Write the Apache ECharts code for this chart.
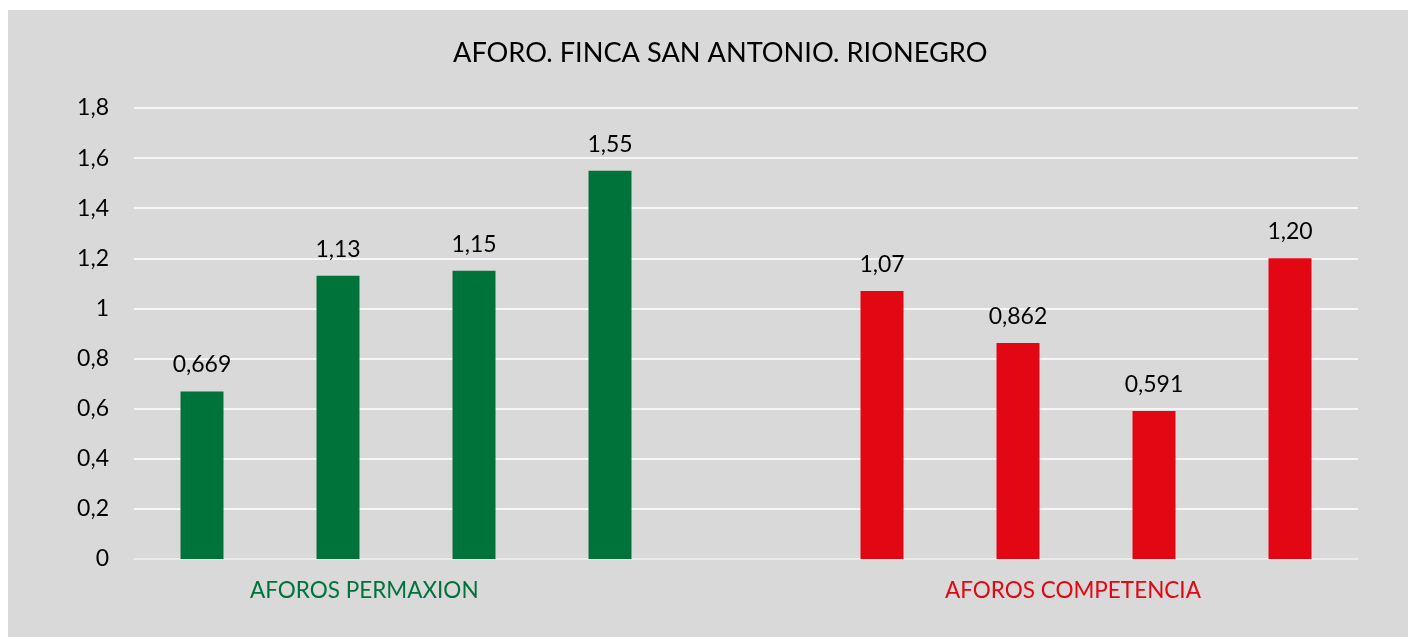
<!DOCTYPE html>
<html>
<head>
<meta charset="utf-8">
<script src="https://cdn.jsdelivr.net/npm/echarts@6/dist/echarts.min.js"></script>
<style>
  html, body { margin: 0; padding: 0; background: #ffffff; }
  #bg { position: absolute; left: 8px; top: 10px; width: 1400px; height: 627px; background: #d9d9d9; }
  #chart { position: absolute; left: 0; top: 0; width: 1418px; height: 637px; }
</style>
</head>
<body>
<div id="bg"></div>
<div id="chart"></div>
<script>
const titleText = 'AFORO. FINCA SAN ANTONIO. RIONEGRO';
const categories = ['P1', 'P2', 'P3', 'P4', '', 'C1', 'C2', 'C3', 'C4'];
const permaxionValues = [0.669, 1.13, 1.15, 1.55, null, null, null, null, null];
const competenciaValues = [null, null, null, null, null, 1.07, 0.862, 0.591, 1.20];
const groupLabels = ['AFOROS PERMAXION', 'AFOROS COMPETENCIA'];

const GREEN = '#00733a';
const RED = '#e30613';
const FONT = 'Lato';

const fmtLabel = p => p.value == null ? '' : Number(p.value).toPrecision(3).replace('.', ',');

const chart = echarts.init(document.getElementById('chart'), null, { renderer: 'canvas' });
chart.setOption({
  backgroundColor: 'transparent',
  animation: false,
  textStyle: { fontFamily: FONT },
  title: {
    text: titleText,
    left: 448,
    top: 35,
    textStyle: { fontFamily: FONT, fontSize: 27.2, fontWeight: 'normal', color: '#000000' }
  },
  grid: { left: 134, right: 60, top: 108, bottom: 78, containLabel: false },
  xAxis: {
    type: 'category',
    data: categories,
    axisLine: { show: true, lineStyle: { color: '#e6e6e6', width: 1.5 } },
    axisTick: { show: false },
    axisLabel: { show: false },
    splitLine: { show: false }
  },
  yAxis: {
    type: 'value',
    min: 0,
    max: 1.8,
    interval: 0.2,
    axisLine: { show: false },
    axisTick: { show: false },
    axisLabel: {
      margin: 25,
      fontFamily: FONT,
      fontSize: 23,
      color: '#000000',
      formatter: v => (+v.toFixed(1)).toString().replace('.', ',')
    },
    splitLine: { show: true, lineStyle: { color: '#ffffff', width: 1.5 } }
  },
  series: [
    {
      name: groupLabels[0],
      type: 'bar',
      data: permaxionValues,
      barWidth: '31.6%',
      barGap: '-100%',
      itemStyle: { color: GREEN },
      label: { show: true, position: 'top', distance: 15, fontFamily: FONT, fontSize: 23, color: '#000000', formatter: fmtLabel }
    },
    {
      name: groupLabels[1],
      type: 'bar',
      data: competenciaValues,
      barWidth: '31.6%',
      barGap: '-100%',
      itemStyle: { color: RED },
      label: { show: true, position: 'top', distance: 15, fontFamily: FONT, fontSize: 23, color: '#000000', formatter: fmtLabel }
    }
  ],
  graphic: [
    {
      type: 'text',
      left: 250,
      top: 579,
      style: { text: groupLabels[0], fontFamily: FONT, fontSize: 22.5, fill: GREEN }
    },
    {
      type: 'text',
      left: 945,
      top: 579,
      style: { text: groupLabels[1], fontFamily: FONT, fontSize: 22.5, fill: RED }
    }
  ]
});
</script>
</body>
</html>
